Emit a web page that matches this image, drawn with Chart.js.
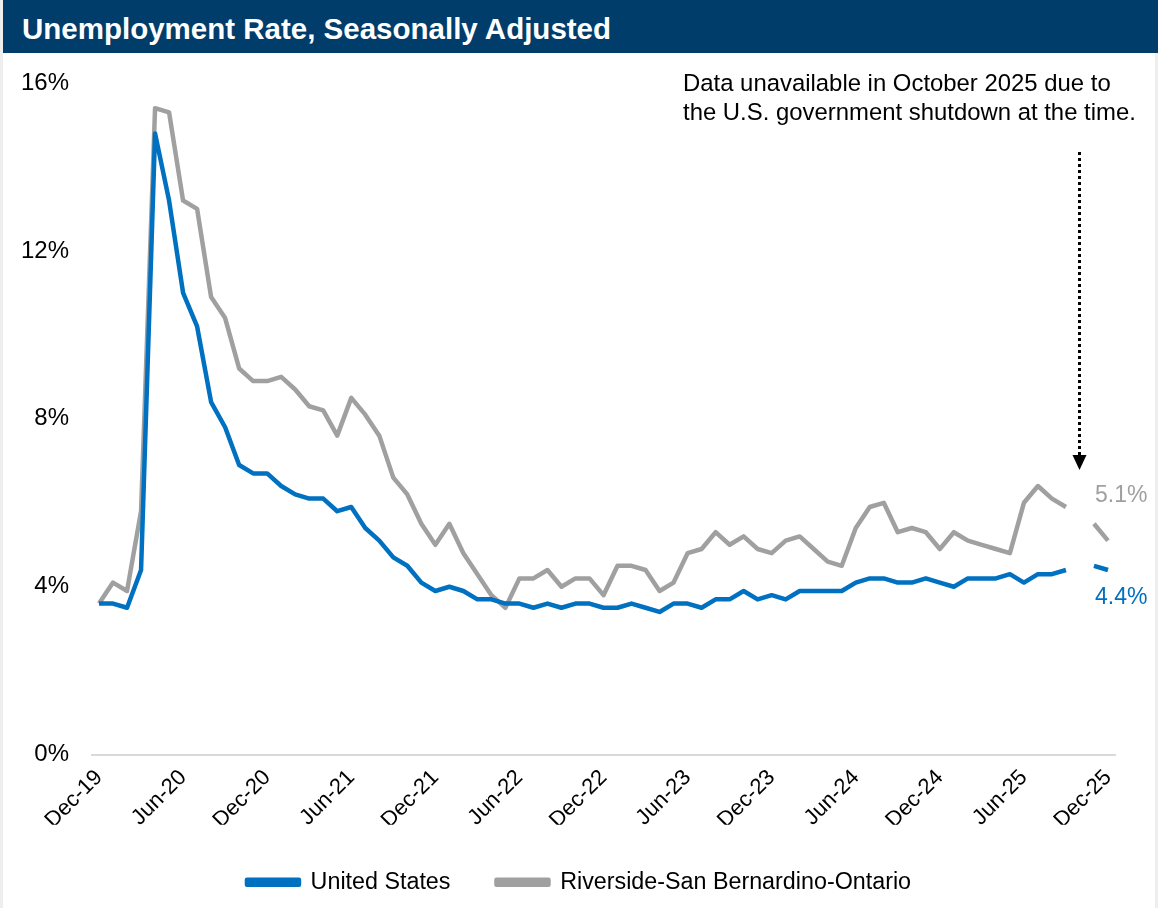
<!DOCTYPE html>
<html>
<head>
<meta charset="utf-8">
<script src="https://cdn.jsdelivr.net/npm/chart.js@4.4.1/dist/chart.umd.min.js"></script>
<style>
  html, body { margin: 0; padding: 0; background: #fff; }
  body { width: 1158px; height: 908px; overflow: hidden; position: relative; font-family: "Liberation Sans", Arial, sans-serif; }
  .edge { position: absolute; top: 0; bottom: 0; width: 3px; background: #eeeeee; }
  .header {
    position: absolute; left: 3px; top: 0; width: 1155px; height: 53px;
    background: #003d6b; color: #fff; font-weight: bold; font-size: 29.5px;
    line-height: 58px; padding-left: 19px; box-sizing: border-box;
  }
  .wrap { position: absolute; left: 0; top: 53px; width: 1158px; height: 855px; }
  canvas { display: block; }
</style>
</head>
<body>
<div class="edge" style="left:0"></div>
<div class="edge" style="right:0"></div>
<div class="header">Unemployment Rate, Seasonally Adjusted</div>
<div class="wrap"><canvas id="chart" width="1158" height="855"></canvas></div>
<script>
// monthly, Dec-19 .. Dec-25 (Oct-25 missing)
const months = [
  "Dec-19",
  "Jan-20","Feb-20","Mar-20","Apr-20","May-20","Jun-20","Jul-20","Aug-20","Sep-20","Oct-20","Nov-20","Dec-20",
  "Jan-21","Feb-21","Mar-21","Apr-21","May-21","Jun-21","Jul-21","Aug-21","Sep-21","Oct-21","Nov-21","Dec-21",
  "Jan-22","Feb-22","Mar-22","Apr-22","May-22","Jun-22","Jul-22","Aug-22","Sep-22","Oct-22","Nov-22","Dec-22",
  "Jan-23","Feb-23","Mar-23","Apr-23","May-23","Jun-23","Jul-23","Aug-23","Sep-23","Oct-23","Nov-23","Dec-23",
  "Jan-24","Feb-24","Mar-24","Apr-24","May-24","Jun-24","Jul-24","Aug-24","Sep-24","Oct-24","Nov-24","Dec-24",
  "Jan-25","Feb-25","Mar-25","Apr-25","May-25","Jun-25","Jul-25","Aug-25","Sep-25","Oct-25","Nov-25","Dec-25"
];

const usRate = [
  3.6,
  3.6, 3.5, 4.4, 14.8, 13.2, 11.0, 10.2, 8.4, 7.8, 6.9, 6.7, 6.7,
  6.4, 6.2, 6.1, 6.1, 5.8, 5.9, 5.4, 5.1, 4.7, 4.5, 4.1, 3.9,
  4.0, 3.9, 3.7, 3.7, 3.6, 3.6, 3.5, 3.6, 3.5, 3.6, 3.6, 3.5,
  3.5, 3.6, 3.5, 3.4, 3.6, 3.6, 3.5, 3.7, 3.7, 3.9, 3.7, 3.8,
  3.7, 3.9, 3.9, 3.9, 3.9, 4.1, 4.2, 4.2, 4.1, 4.1, 4.2, 4.1,
  4.0, 4.2, 4.2, 4.2, 4.3, 4.1, 4.3, 4.3, 4.4, null, 4.5, 4.4
];

const riversideRate = [
  3.6,
  4.1, 3.9, 5.8, 15.4, 15.3, 13.2, 13.0, 10.9, 10.4, 9.2, 8.9, 8.9,
  9.0, 8.7, 8.3, 8.2, 7.6, 8.5, 8.1, 7.6, 6.6, 6.2, 5.5, 5.0,
  5.5, 4.8, 4.3, 3.8, 3.5, 4.2, 4.2, 4.4, 4.0, 4.2, 4.2, 3.8,
  4.5, 4.5, 4.4, 3.9, 4.1, 4.8, 4.9, 5.3, 5.0, 5.2, 4.9, 4.8,
  5.1, 5.2, 4.9, 4.6, 4.5, 5.4, 5.9, 6.0, 5.3, 5.4, 5.3, 4.9,
  5.3, 5.1, 5.0, 4.9, 4.8, 6.0, 6.4, 6.1, 5.9, null, 5.5, 5.1
];

const yTicks = [0, 4, 8, 12, 16];
const noteLines = ["Data unavailable in October 2025 due to", "the U.S. government shutdown at the time."];
const missingIndex = months.indexOf("Oct-25");

const BLUE = "#0070c0";
const GRAY = "#a0a0a0";
const FONT = "'Liberation Sans', Arial, sans-serif";

const extras = {
  id: "extras",
  afterDraw(chart) {
    const { ctx, scales: { x, y } } = chart;
    ctx.save();
    // note
    ctx.fillStyle = "#000";
    ctx.font = "23.9px " + FONT;
    ctx.textAlign = "left";
    ctx.textBaseline = "alphabetic";
    ctx.fillText(noteLines[0], 683, 38);
    ctx.fillText(noteLines[1], 683, 67);
    // dotted arrow at the missing month
    const ax = Math.round(x.getPixelForValue(missingIndex)) - 0.5;
    ctx.strokeStyle = "#000";
    ctx.lineWidth = 3;
    ctx.setLineDash([3, 3]);
    ctx.beginPath();
    ctx.moveTo(ax, 99);
    ctx.lineTo(ax, 402);
    ctx.stroke();
    ctx.setLineDash([]);
    ctx.fillStyle = "#000";
    ctx.beginPath();
    ctx.moveTo(ax - 7, 402);
    ctx.lineTo(ax + 7, 402);
    ctx.lineTo(ax, 417);
    ctx.closePath();
    ctx.fill();
    // end labels
    const last = months.length - 1;
    ctx.font = "23px " + FONT;
    ctx.textAlign = "left";
    ctx.textBaseline = "middle";
    ctx.fillStyle = GRAY;
    ctx.fillText(riversideRate[last].toFixed(1) + "%", 1095, y.getPixelForValue(riversideRate[last]) - 45);
    ctx.fillStyle = BLUE;
    ctx.fillText(usRate[last].toFixed(1) + "%", 1095, y.getPixelForValue(usRate[last]) + 28);
    ctx.restore();
  }
};

new Chart(document.getElementById("chart"), {
  type: "line",
  data: {
    labels: months,
    datasets: [
      { label: "United States", data: usRate, borderColor: BLUE, backgroundColor: BLUE },
      { label: "Riverside-San Bernardino-Ontario", data: riversideRate, borderColor: GRAY, backgroundColor: GRAY }
    ]
  },
  options: {
    responsive: false,
    animation: false,
    devicePixelRatio: 1,
    spanGaps: false,
    layout: { padding: { top: 30, right: 0, left: 0, bottom: 4 } },
    elements: {
      point: { radius: 0 },
      line: { borderWidth: 4.5, borderJoinStyle: "round", tension: 0 }
    },
    scales: {
      x: {
        offset: true,
        grid: { display: false, drawTicks: false },
        border: { display: true, color: "#d9d9d9", width: 2 },
        ticks: {
          autoSkip: false,
          maxRotation: 45,
          minRotation: 45,
          color: "#000",
          padding: 10,
          font: { family: FONT, size: 22 },
          callback: (v, i) => (i % 6 === 0 ? months[i] : null)
        },
        afterFit: s => { s.height = 70; }
      },
      y: {
        min: 0,
        max: 16,
        afterBuildTicks: s => { s.ticks = yTicks.map(v => ({ value: v })); },
        grid: { display: false },
        border: { display: false },
        ticks: {
          color: "#000",
          padding: 15,
          font: { family: FONT, size: 24 },
          callback: v => v + "%"
        },
        afterFit: s => { s.width = 92; }
      },
      // empty right margin so the legend centres on the page
      margin: {
        position: "right",
        grid: { display: false, drawTicks: false },
        border: { display: false },
        ticks: { display: false },
        afterFit: s => { s.width = 43; }
      }
    },
    plugins: {
      legend: {
        position: "bottom",
        labels: {
          boxWidth: 52,
          boxHeight: 5,
          color: "#000",
          padding: 46,
          font: { family: FONT, size: 23.3 }
        }
      },
      tooltip: { enabled: false }
    }
  },
  plugins: [extras]
});
</script>
</body>
</html>
